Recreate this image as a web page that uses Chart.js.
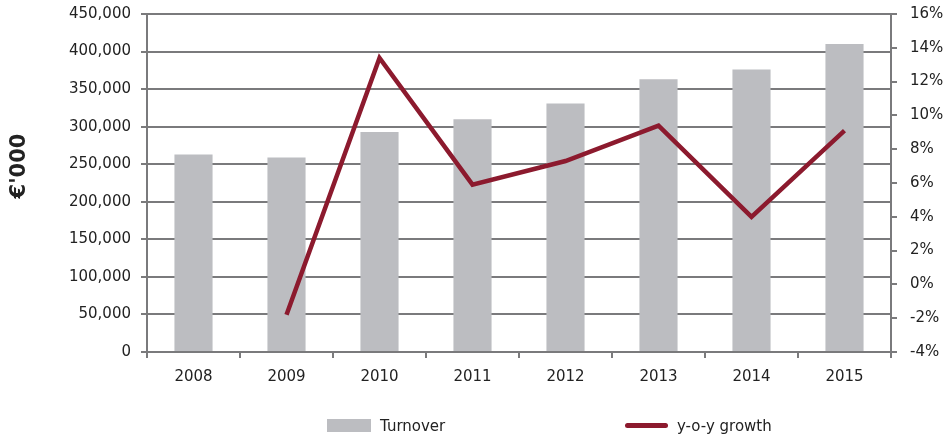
<!DOCTYPE html>
<html lang="en">
<head>
  <meta charset="UTF-8">
  <title>Turnover and y-o-y growth</title>
  <script src="https://cdn.jsdelivr.net/npm/chart.js"></script>
  <style>
    body { margin: 0; background: #fff; }
    #wrap { position: relative; width: 946px; height: 437px; }
    #legend { position: absolute; left: 0; top: 417px; width: 946px; font: 15px "DejaVu Sans", sans-serif; color: #222; }
    .item { position: absolute; top: 0; line-height: 18px; }
    .swatch { display: inline-block; vertical-align: middle; margin-right: 9px; }
  </style>
</head>
<body>
  <div id="wrap">
    <canvas id="turnoverChart" width="946" height="437"></canvas>
    <div id="legend">
      <span class="item" style="left:327px"><span class="swatch" style="width:44px;height:13px;background:#bcbdc1;margin-top:-3px"></span>Turnover</span>
      <span class="item" style="left:625px"><span class="swatch" style="width:43px;height:5px;border-radius:3px;background:#8c1a2e;margin-top:-3px"></span>y-o-y growth</span>
    </div>
  </div>
  <script>
    const years = ['2008', '2009', '2010', '2011', '2012', '2013', '2014', '2015'];
    const turnover = [263000, 259000, 293000, 310000, 331000, 363000, 376000, 410000];
    const growth = [null, -1.8, 13.4, 5.9, 7.3, 9.4, 4.0, 9.1];

    const gridGray = '#7a7a7c';
    const tickFont = { family: 'DejaVu Sans', size: 15 };

    // left axis title, drawn by hand so it sits where the original has it
    const unitTitle = {
      id: 'unitTitle',
      afterDraw(chart) {
        const c = chart.ctx;
        c.save();
        c.translate(20, 166);
        c.rotate(-Math.PI / 2);
        c.font = 'bold 21px "DejaVu Sans"';
        c.fillStyle = '#222';
        c.textAlign = 'center';
        c.textBaseline = 'middle';
        c.fillText("€'000", 0, 0);
        c.restore();
      }
    };

    function fixWidth(w) {
      return function (scale) {
        scale.width = w;
        scale.paddingTop = 0;
        scale.paddingBottom = 0;
      };
    }

    const ctx = document.getElementById('turnoverChart').getContext('2d');
    new Chart(ctx, {
      data: {
        labels: years,
        datasets: [
          {
            type: 'line',
            label: 'y-o-y growth',
            data: growth,
            yAxisID: 'yRight',
            borderColor: '#8c1a2e',
            borderWidth: 4.5,
            pointRadius: 0,
            tension: 0,
            order: 0
          },
          {
            type: 'bar',
            label: 'Turnover',
            data: turnover,
            yAxisID: 'yLeft',
            backgroundColor: '#bcbdc1',
            categoryPercentage: 0.41,
            barPercentage: 1,
            order: 1
          }
        ]
      },
      plugins: [unitTitle],
      options: {
        responsive: false,
        animation: false,
        layout: { padding: { top: 14, bottom: 45, left: 0, right: 0 } },
        plugins: {
          legend: { display: false },
          tooltip: { enabled: false }
        },
        scales: {
          x: {
            offset: true,
            grid: { display: true, drawOnChartArea: false, offset: true, color: gridGray, lineWidth: 2, tickLength: 6 },
            border: { color: gridGray, width: 2 },
            ticks: { color: '#222', font: tickFont, padding: 10 },
            afterFit: function (scale) { scale.height = 40; }
          },
          yLeft: {
            position: 'left',
            min: 0,
            max: 450000,
            grid: { color: gridGray, lineWidth: 2, tickLength: 6 },
            border: { color: gridGray, width: 2 },
            ticks: {
              stepSize: 50000,
              color: '#222',
              font: tickFont,
              padding: 10,
              callback: function (value) { return value.toLocaleString('en-US'); }
            },
            afterFit: fixWidth(147)
          },
          yRight: {
            position: 'right',
            min: -4,
            max: 16,
            grid: { drawOnChartArea: false, color: gridGray, lineWidth: 2, tickLength: 6 },
            border: { color: gridGray, width: 2 },
            ticks: {
              stepSize: 2,
              color: '#222',
              font: tickFont,
              padding: 13,
              callback: function (value) { return value + '%'; }
            },
            afterFit: fixWidth(55)
          }
        }
      }
    });
  </script>
</body>
</html>
